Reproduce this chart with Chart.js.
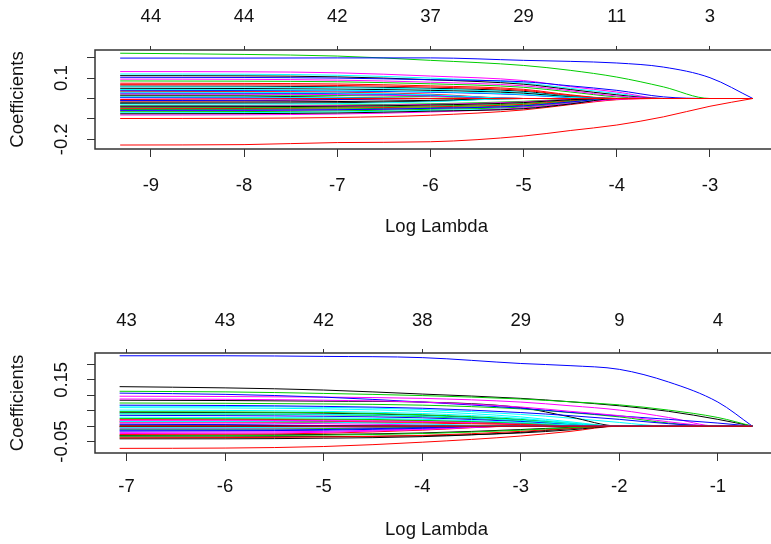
<!DOCTYPE html>
<html lang="en">
<head>
  <meta charset="UTF-8">
  <title>Coefficient paths</title>
  <script src="https://cdn.jsdelivr.net/npm/chart.js"></script>
  <style>
    html, body {
      margin: 0;
      padding: 0;
      background: #fff;
      overflow: hidden;
      width: 771px;
      height: 544px;
    }
    .panel {
      position: absolute;
      left: 0;
      width: 790px;
      height: 272px;
    }
  </style>
</head>
<body>
  <div class="panel" style="top:0"><canvas id="topChart" width="790" height="272"></canvas></div>
  <div class="panel" style="top:272px"><canvas id="bottomChart" width="790" height="272"></canvas></div>
  <script>
    // ---- upper panel ----
    const lambdaTop = [-9.33, -8, -7, -6, -5, -4.5, -4, -3.5, -3, -2.54];
    const xTicksTop = [-9, -8, -7, -6, -5, -4, -3];
    const dfTop = ['44', '44', '42', '37', '29', '11', '3'];
    const yTicksTop = [-0.2, -0.1, 0, 0.1, 0.2];
    const yTextTop = ['-0.2', '', '', '0.1', ''];
    // one row per variable, values at lambdaTop
    const coefTop = [
      [0.061, 0.060, 0.057, 0.050, 0.035, 0.012, 0, 0, 0, 0],
      [-0.228, -0.226, -0.216, -0.212, -0.184, -0.157, -0.130, -0.090, -0.038, 0],
      [0.222, 0.216, 0.208, 0.187, 0.162, 0.138, 0.105, 0.057, 0, 0],
      [0.198, 0.198, 0.199, 0.199, 0.187, 0.182, 0.174, 0.154, 0.102, 0],
      [0.120, 0.119, 0.114, 0.100, 0.076, 0.050, 0.025, 0, 0, 0],
      [0.132, 0.131, 0.126, 0.110, 0.088, 0.058, 0.032, 0, 0, 0],
      [0.112, 0.111, 0.106, 0.092, 0.070, 0.044, 0.018, 0, 0, 0],
      [0.068, 0.067, 0.064, 0.056, 0.040, 0.015, 0, 0, 0, 0],
      [0.086, 0.085, 0.082, 0.072, 0.055, 0.032, 0.008, 0, 0, 0],
      [0.104, 0.103, 0.100, 0.092, 0.082, 0.062, 0.040, 0.008, 0, 0],
      [0.057, 0.056, 0.053, 0.046, 0.030, 0.010, 0, 0, 0, 0],
      [0.095, 0.094, 0.090, 0.080, 0.062, 0.038, 0.012, 0, 0, 0],
      [0.050, 0.049, 0.046, 0.040, 0.026, 0.008, 0, 0, 0, 0],
      [0.075, 0.074, 0.071, 0.062, 0.045, 0.018, 0, 0, 0, 0],
      [0.018, 0.017, 0.015, 0.009, 0, 0, 0, 0, 0, 0],
      [0.040, 0.039, 0.037, 0.031, 0.018, 0.004, 0, 0, 0, 0],
      [0.044, 0.043, 0.041, 0.034, 0.020, 0.005, 0, 0, 0, 0],
      [0.022, 0.021, 0.019, 0.012, 0, 0, 0, 0, 0, 0],
      [0.013, 0.012, 0.006, 0, 0, 0, 0, 0, 0, 0],
      [0.035, 0.034, 0.031, 0.021, 0, 0, 0, 0, 0, 0],
      [-0.035, -0.034, -0.032, -0.026, -0.014, -0.003, 0, 0, 0, 0],
      [0.027, 0.026, 0.024, 0.016, 0, 0, 0, 0, 0, 0],
      [0.031, 0.030, 0.027, 0.018, 0, 0, 0, 0, 0, 0],
      [0.003, 0.001, 0, 0, 0, 0, 0, 0, 0, 0],
      [-0.018, -0.017, -0.015, -0.009, 0, 0, 0, 0, 0, 0],
      [-0.012, -0.011, -0.006, 0, 0, 0, 0, 0, 0, 0],
      [-0.046, -0.045, -0.043, -0.037, -0.025, -0.009, 0, 0, 0, 0],
      [0.005, 0.004, 0.002, 0, 0, 0, 0, 0, 0, 0],
      [0.008, 0.007, 0.004, 0, 0, 0, 0, 0, 0, 0],
      [-0.038, -0.037, -0.035, -0.029, -0.017, -0.004, 0, 0, 0, 0],
      [-0.024, -0.023, -0.021, -0.013, 0, 0, 0, 0, 0, 0],
      [-0.050, -0.049, -0.047, -0.041, -0.029, -0.012, 0, 0, 0, 0],
      [-0.054, -0.053, -0.051, -0.045, -0.033, -0.015, 0, 0, 0, 0],
      [-0.010, -0.009, -0.005, 0, 0, 0, 0, 0, 0, 0],
      [-0.028, -0.027, -0.025, -0.016, 0, 0, 0, 0, 0, 0],
      [-0.060, -0.059, -0.056, -0.049, -0.038, -0.019, 0, 0, 0, 0],
      [-0.041, -0.040, -0.038, -0.032, -0.020, -0.006, 0, 0, 0, 0],
      [-0.098, -0.097, -0.093, -0.082, -0.056, -0.030, -0.006, 0, 0, 0],
      [-0.065, -0.064, -0.061, -0.053, -0.042, -0.022, 0, 0, 0, 0],
      [-0.058, -0.057, -0.055, -0.048, -0.036, -0.017, 0, 0, 0, 0],
      [-0.070, -0.069, -0.066, -0.058, -0.047, -0.025, 0, 0, 0, 0],
      [-0.081, -0.080, -0.076, -0.066, -0.046, -0.024, -0.004, 0, 0, 0],
      [-0.075, -0.074, -0.071, -0.062, -0.050, -0.027, 0, 0, 0, 0],
      [-0.005, -0.002, 0, 0, 0, 0, 0, 0, 0, 0]
    ];

    // ---- lower panel ----
    const lambdaBottom = [-7.07, -6, -5, -4, -3, -2.5, -2, -1.5, -1, -0.65];
    const xTicksBottom = [-7, -6, -5, -4, -3, -2, -1];
    const dfBottom = ['43', '43', '42', '38', '29', '9', '4'];
    const yTicksBottom = [-0.05, 0, 0.05, 0.1, 0.15, 0.2];
    const yTextBottom = ['-0.05', '', '', '', '0.15', ''];
    const coefBottom = [
      [0.128, 0.124, 0.117, 0.104, 0.090, 0.079, 0.066, 0.048, 0.022, 0],
      [-0.072, -0.071, -0.066, -0.052, -0.032, -0.017, 0, 0, 0, 0],
      [0.113, 0.111, 0.106, 0.099, 0.088, 0.079, 0.069, 0.052, 0.028, 0],
      [0.228, 0.228, 0.226, 0.222, 0.203, 0.196, 0.184, 0.143, 0.078, 0],
      [0.065, 0.064, 0.061, 0.054, 0.038, 0.026, 0.012, 0, 0, 0],
      [0.097, 0.096, 0.094, 0.090, 0.078, 0.066, 0.052, 0.028, 0, 0],
      [0.084, 0.083, 0.081, 0.078, 0.060, 0.030, 0, 0, 0, 0],
      [0.022, 0.022, 0.021, 0.018, 0.010, 0.004, 0, 0, 0, 0],
      [0.075, 0.074, 0.072, 0.068, 0.056, 0.044, 0.030, 0.010, 0, 0],
      [0.107, 0.103, 0.094, 0.078, 0.058, 0.045, 0.033, 0.022, 0.010, 0],
      [0.060, 0.059, 0.056, 0.048, 0.030, 0.014, 0, 0, 0, 0],
      [0.088, 0.087, 0.084, 0.078, 0.062, 0.048, 0.034, 0.014, 0, 0],
      [0.045, 0.044, 0.042, 0.035, 0.020, 0.008, 0, 0, 0, 0],
      [0.016, 0.016, 0.015, 0.013, 0.007, 0.002, 0, 0, 0, 0],
      [0.047, 0.046, 0.044, 0.037, 0.022, 0.009, 0, 0, 0, 0],
      [0.068, 0.067, 0.064, 0.058, 0.044, 0.034, 0.022, 0.008, 0, 0],
      [0.052, 0.051, 0.048, 0.041, 0.025, 0.011, 0, 0, 0, 0],
      [0.019, 0.019, 0.018, 0.015, 0.008, 0.003, 0, 0, 0, 0],
      [0.003, 0.003, 0.001, 0, 0, 0, 0, 0, 0, 0],
      [0.013, 0.013, 0.012, 0.010, 0.005, 0.002, 0, 0, 0, 0],
      [0.040, 0.039, 0.037, 0.031, 0.017, 0.007, 0, 0, 0, 0],
      [0.035, 0.034, 0.032, 0.027, 0.015, 0.006, 0, 0, 0, 0],
      [0.040, 0.040, 0.038, 0.033, 0.019, 0.008, 0, 0, 0, 0],
      [0.010, 0.010, 0.008, 0.004, 0, 0, 0, 0, 0, 0],
      [-0.030, -0.029, -0.027, -0.022, -0.011, -0.004, 0, 0, 0, 0],
      [-0.003, -0.003, -0.001, 0, 0, 0, 0, 0, 0, 0],
      [0.025, 0.024, 0.023, 0.019, 0.010, 0.003, 0, 0, 0, 0],
      [0.006, 0.005, 0.002, 0, 0, 0, 0, 0, 0, 0],
      [0.029, 0.028, 0.027, 0.022, 0.012, 0.004, 0, 0, 0, 0],
      [-0.007, -0.007, -0.006, -0.003, 0, 0, 0, 0, 0, 0],
      [-0.035, -0.035, -0.034, -0.031, -0.022, -0.012, 0, 0, 0, 0],
      [-0.027, -0.026, -0.023, -0.013, 0, 0, 0, 0, 0, 0],
      [-0.010, -0.010, -0.008, -0.004, 0, 0, 0, 0, 0, 0],
      [-0.013, -0.013, -0.011, -0.005, 0, 0, 0, 0, 0, 0],
      [0.015, 0.015, 0.013, 0.007, 0, 0, 0, 0, 0, 0],
      [-0.020, -0.019, -0.017, -0.009, 0, 0, 0, 0, 0, 0],
      [-0.041, -0.041, -0.039, -0.034, -0.020, -0.008, 0, 0, 0, 0],
      [-0.038, -0.037, -0.035, -0.030, -0.017, -0.007, 0, 0, 0, 0],
      [-0.032, -0.031, -0.029, -0.024, -0.013, -0.005, 0, 0, 0, 0],
      [-0.016, -0.015, -0.013, -0.007, 0, 0, 0, 0, 0, 0],
      [-0.005, -0.005, -0.002, 0, 0, 0, 0, 0, 0, 0],
      [-0.024, -0.023, -0.020, -0.011, 0, 0, 0, 0, 0, 0],
      [-0.001, -0.001, 0, 0, 0, 0, 0, 0, 0, 0],
      [0, 0, 0, 0, 0, 0, 0, 0, 0, 0]
    ];

    // R default palette cycled by matplot
    const lineColors = ['#000000', '#FF0000', '#00CD00', '#0000FF', '#00FFFF', '#FF00FF'];
    const FONT = '"Liberation Sans", Arial, sans-serif';
    const FONT_SIZE = 18.5;

    // box around plot region + rotated y labels + axis titles, like base R
    const rFrame = {
      id: 'rFrame',
      afterDraw(chart, args, o) {
        const { ctx, chartArea: a, scales } = chart;
        ctx.save();
        ctx.strokeStyle = '#333';
        ctx.lineWidth = 1.5;
        ctx.strokeRect(a.left, a.top, a.right - a.left, a.bottom - a.top);
        ctx.fillStyle = '#111';
        ctx.font = FONT_SIZE + 'px ' + FONT;
        ctx.textAlign = 'center';
        ctx.textBaseline = 'middle';
        o.yTicks.forEach((v, i) => {
          if (!o.yText[i]) return;
          ctx.save();
          ctx.translate(62, scales.y.getPixelForValue(v));
          ctx.rotate(-Math.PI / 2);
          ctx.fillText(o.yText[i], 0, 0);
          ctx.restore();
        });
        ctx.fillText('Log Lambda', (a.left + a.right) / 2, o.xTitleY);
        ctx.translate(18, (a.top + a.bottom) / 2);
        ctx.rotate(-Math.PI / 2);
        ctx.fillText('Coefficients', 0, 0);
        ctx.restore();
      }
    };

    function drawPanel(id, lambdas, coefs, p) {
      const datasets = [];
      // last variable drawn on top, as in matplot
      for (let k = coefs.length - 1; k >= 0; k--) {
        datasets.push({
          data: lambdas.map((x, i) => ({ x: x, y: coefs[k][i] })),
          borderColor: lineColors[k % 6],
          borderWidth: 1,
          pointRadius: 0,
          cubicInterpolationMode: 'monotone',
          fill: false
        });
      }
      const tickFont = { family: FONT, size: FONT_SIZE };
      new Chart(document.getElementById(id), {
        type: 'line',
        data: { datasets: datasets },
        plugins: [rFrame],
        options: {
          responsive: false,
          animation: false,
          events: [],
          layout: { padding: { left: 0, right: 12, top: 0, bottom: 0 } },
          plugins: {
            legend: { display: false },
            tooltip: { enabled: false },
            rFrame: { yTicks: p.yTicks, yText: p.yText, xTitleY: p.xTitleY }
          },
          scales: {
            x: {
              type: 'linear', position: 'bottom', min: p.xMin, max: p.xMax,
              afterBuildTicks: s => { s.ticks = p.xTicks.map(v => ({ value: v })); },
              afterFit: s => { s.height = p.bottomH; },
              grid: { drawOnChartArea: false, drawTicks: true, tickLength: 8, color: '#333' },
              border: { display: false },
              ticks: { color: '#111', font: tickFont, padding: p.bottomPad, autoSkip: false, maxRotation: 0 }
            },
            xTop: {
              type: 'linear', position: 'top', min: p.xMin, max: p.xMax,
              afterBuildTicks: s => { s.ticks = p.xTicks.map(v => ({ value: v })); },
              afterFit: s => { s.height = p.topH; },
              grid: { drawOnChartArea: false, drawTicks: true, tickLength: 4, color: '#333' },
              border: { display: false },
              ticks: { color: '#111', font: tickFont, padding: p.topPad, autoSkip: false, maxRotation: 0,
                       callback: (v, i) => p.df[i] }
            },
            y: {
              type: 'linear', position: 'left', min: p.yMin, max: p.yMax,
              afterBuildTicks: s => { s.ticks = p.yTicks.map(v => ({ value: v })); },
              afterFit: s => { s.width = 95; },
              grid: { drawOnChartArea: false, drawTicks: true, tickLength: 8, color: '#333' },
              border: { display: false },
              ticks: { display: false }
            }
          }
        }
      });
    }

    drawPanel('topChart', lambdaTop, coefTop, {
      xMin: -9.6, xMax: -2.27, yMin: -0.2475, yMax: 0.2377,
      xTicks: xTicksTop, df: dfTop, yTicks: yTicksTop, yText: yTextTop,
      topH: 50, bottomH: 123, topPad: 17.5, bottomPad: 17.5, xTitleY: 227
    });
    drawPanel('bottomChart', lambdaBottom, coefBottom, {
      xMin: -7.32, xMax: -0.39, yMin: -0.087, yMax: 0.237,
      xTicks: xTicksBottom, df: dfBottom, yTicks: yTicksBottom, yText: yTextBottom,
      topH: 81, bottomH: 91, topPad: 16.5, bottomPad: 15, xTitleY: 258
    });
  </script>
</body>
</html>
